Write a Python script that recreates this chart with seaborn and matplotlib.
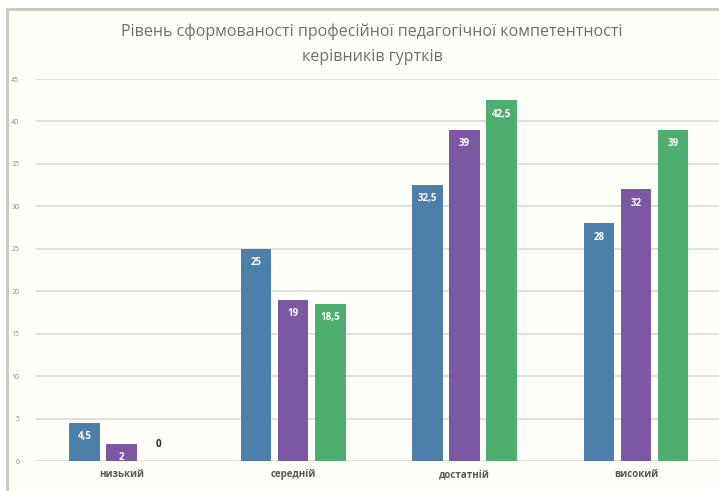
import matplotlib
matplotlib.use("Agg")
import matplotlib.pyplot as plt
from matplotlib.patches import Rectangle
import seaborn as sns
import pandas as pd

categories = ["низький", "середній", "достатній", "високий"]
series_names = ["Серія 1", "Серія 2", "Серія 3"]
series1 = [4.5, 25, 32.5, 28]
series2 = [2, 19, 39, 32]
series3 = [0, 18.5, 42.5, 39]
y_ticks = [0, 5, 10, 15, 20, 25, 30, 35, 40, 45]
title = "Рівень сформованості професійної педагогічної компетентності\nкерівників гуртків"

colors = ["#4C7FA9", "#7C57A4", "#4DAE70"]

rows = []
for name, vals in zip(series_names, [series1, series2, series3]):
    for c, v in zip(categories, vals):
        rows.append({"cat": c, "series": name, "value": v})
df = pd.DataFrame(rows)

sns.set_theme(style="white")
plt.rcParams["font.family"] = ["Open Sans", "DejaVu Sans"]

fig = plt.figure(figsize=(7.19, 4.91), dpi=100)
fig.patch.set_facecolor("white")
frame = Rectangle((7 / 719, -0.1), 1.2, (491 - 9) / 491 + 0.1, transform=fig.transFigure,
                  facecolor="#FFFFFA", edgecolor="#C9CCBC", linewidth=2.2, zorder=-5)
fig.patches.append(frame)

ax = fig.add_axes([36 / 719, 30 / 491, 684 / 719, 382 / 491])
ax.set_facecolor("none")
ax.set_zorder(5)

sns.barplot(data=df, x="cat", y="value", hue="series", order=categories,
            hue_order=series_names, palette=colors, width=0.65, gap=0.18,
            legend=False, ax=ax, saturation=1, zorder=3, edgecolor="none")

ax.set_ylim(0, 45)
ax.set_xlim(-0.5, 3.49)
ax.set_yticks(y_ticks)
ax.set_yticklabels([str(t) for t in y_ticks], fontsize=5, color="#8C8C8C")
ax.tick_params(axis="y", length=0, pad=12)
ax.tick_params(axis="x", length=0, pad=6)
ax.set_xticks(range(len(categories)))
ax.set_xticklabels(categories, fontsize=7, color="#595959", fontweight="bold")
ax.set_xlabel("")
ax.set_ylabel("")
ax.grid(axis="y", color="#DCDCD4", linewidth=1.2, zorder=0)
for s in ax.spines.values():
    s.set_visible(False)

for cont in ax.containers:
    for bar in cont:
        h = bar.get_height()
        xc = bar.get_x() + bar.get_width() / 2
        lab = f"{h:g}".replace(".", ",")
        if h >= 1.5:
            ax.annotate(lab, (xc, h), xytext=(0, -10), textcoords="offset points",
                        ha="center", va="center", fontsize=7, fontweight="bold",
                        color="white", zorder=5)
        else:
            ax.annotate(lab, (xc, h), xytext=(0, 12), textcoords="offset points",
                        ha="center", va="center", fontsize=7, fontweight="bold",
                        color="#262626", zorder=5)

fig.text(372 / 719, 1 - 44 / 491, title, ha="center", va="center", fontsize=11.5,
         color="#6E6E6E", linespacing=1.75, zorder=6)

fig.savefig("out.png", dpi=100)
